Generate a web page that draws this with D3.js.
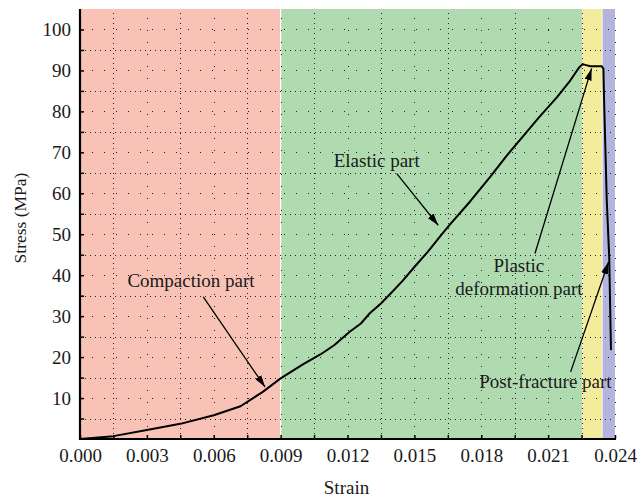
<!DOCTYPE html>
<html>
<head>
<meta charset="utf-8">
<script src="https://cdn.jsdelivr.net/npm/d3@7/dist/d3.min.js"></script>
<style>
  html, body { margin: 0; padding: 0; background: #fff; }
  svg { display: block; font-family: "Liberation Serif", "DejaVu Serif", serif; }
</style>
</head>
<body>
<svg id="chart" width="641" height="498"></svg>
<script>
// ---- Data ----
const strain = [0, 0.0015, 0.003, 0.0045, 0.006, 0.0072, 0.0082, 0.009, 0.010, 0.0108, 0.0114, 0.0121, 0.0126, 0.0130, 0.0135, 0.0140, 0.0145, 0.0150, 0.0156, 0.0162, 0.0166, 0.0175, 0.0184, 0.0191, 0.0199, 0.0206, 0.0214, 0.0220, 0.0224, 0.02255, 0.0227, 0.0229, 0.0234, 0.02348, 0.0235, 0.02363, 0.02374, 0.02382];
const stress = [0, 0.7, 2.2, 3.7, 5.8, 8.0, 11.5, 14.8, 18.2, 20.7, 22.9, 26.2, 28.2, 30.7, 33.1, 35.9, 38.8, 42.0, 45.7, 49.8, 52.4, 58.0, 64.0, 68.9, 74.1, 78.6, 83.5, 87.6, 90.8, 91.5, 91.3, 91.0, 91.05, 90.4, 85.1, 58.3, 44.5, 21.7];

const regionNames = ["Compaction", "Elastic", "Plastic", "Post-fracture"];
const regionStart = [0, 0.009, 0.02253, 0.02343];
const regionEnd   = [0.009, 0.02253, 0.02343, 0.024];
const regionColor = ["#f8c3b6", "#b0dbb0", "#f2ec9c", "#b3b5de"];

const xTicks = [0, 0.003, 0.006, 0.009, 0.012, 0.015, 0.018, 0.021, 0.024];
const xTickLabels = ["0.000", "0.003", "0.006", "0.009", "0.012", "0.015", "0.018", "0.021", "0.024"];
const yTicks = [10, 20, 30, 40, 50, 60, 70, 80, 90, 100];
const yTickLabels = ["10", "20", "30", "40", "50", "60", "70", "80", "90", "100"];

// annotation: label lines, text anchor (strain, stress), arrow tail, arrow tip
const annLabels = [["Compaction part"], ["Elastic part"], ["Plastic", "deformation part"], ["Post-fracture part"]];
const annTextX = [0.00498, 0.01331, 0.01969, 0.02088];
const annTextY = [37.1, 66.4, 40.8, 12.4];
const annTailX = [0.00553, 0.01421, 0.02041, 0.02201];
const annTailY = [34.7, 64.8, 45.3, 16.4];
const annTipX  = [0.0083, 0.01607, 0.02295, 0.02371];
const annTipY  = [12.7, 52.2, 90.5, 43.2];

// ---- Layout ----
const svg = d3.select("#chart");
const L = 80, R = 615, T = 9, B = 439;
const x = d3.scaleLinear().domain([0, 0.024]).range([L, R]);
const y = d3.scaleLinear().domain([0, 105]).range([B, T]);
const FS = 19;

// regions
svg.append("g").selectAll("rect").data(regionNames).join("rect")
  .attr("x", (d, i) => x(regionStart[i]))
  .attr("y", T)
  .attr("width", (d, i) => x(regionEnd[i]) - x(regionStart[i]))
  .attr("height", B - T)
  .attr("fill", (d, i) => regionColor[i]);

// white separators
svg.append("line").attr("x1", x(regionStart[1])).attr("x2", x(regionStart[1]))
  .attr("y1", T).attr("y2", B).attr("stroke", "#fff").attr("stroke-width", 1.2);
svg.append("line").attr("x1", x(regionStart[3])).attr("x2", x(regionStart[3]))
  .attr("y1", T).attr("y2", B).attr("stroke", "#fff").attr("stroke-width", 1).attr("stroke-opacity", 0.6);
svg.append("line").attr("x1", x(regionStart[2])).attr("x2", x(regionStart[2]))
  .attr("y1", T).attr("y2", B).attr("stroke", "#fff").attr("stroke-width", 1).attr("stroke-opacity", 0.3);

// grid
const gx = d3.range(1, 17).map(i => i * 0.0015);
const gy = d3.range(1, 21).map(i => i * 5);
const grid = svg.append("g").attr("stroke", "#222").attr("stroke-width", 1);
grid.selectAll("line.v").data(gx).join("line").attr("class", "v")
  .attr("x1", d => Math.round(x(d)) + 0.5).attr("x2", d => Math.round(x(d)) + 0.5)
  .attr("y1", B).attr("y2", T)
  .attr("stroke-dasharray", (d, i) => (i % 2 === 1) ? "1,11" : "1,4");
grid.selectAll("line.h").data(gy).join("line").attr("class", "h")
  .attr("x1", L).attr("x2", R)
  .attr("y1", d => Math.round(y(d)) + 0.5).attr("y2", d => Math.round(y(d)) + 0.5)
  .attr("stroke-dasharray", (d, i) => (i % 2 === 1) ? "1,11" : "1,4");

// curve
const line = d3.line().x(d => x(d[0])).y(d => y(d[1]));
svg.append("path").datum(strain.map((s, i) => [s, stress[i]]))
  .attr("d", line).attr("fill", "none").attr("stroke", "#000")
  .attr("stroke-width", 2).attr("stroke-linejoin", "round");

// arrows
svg.append("defs").append("marker")
  .attr("id", "ah").attr("viewBox", "0 0 10 6").attr("refX", 10).attr("refY", 3)
  .attr("markerUnits", "userSpaceOnUse").attr("markerWidth", 12).attr("markerHeight", 7.2)
  .attr("orient", "auto")
  .append("path").attr("d", "M0,0 L10,3 L0,6 Z").attr("fill", "#000");

svg.append("g").selectAll("line").data(annLabels).join("line")
  .attr("x1", (d, i) => x(annTailX[i])).attr("y1", (d, i) => y(annTailY[i]))
  .attr("x2", (d, i) => x(annTipX[i])).attr("y2", (d, i) => y(annTipY[i]))
  .attr("stroke", "#000").attr("stroke-width", 1.3).attr("marker-end", "url(#ah)");

// annotation labels
const ann = svg.append("g").attr("font-size", FS).attr("fill", "#1a1a1a").attr("text-anchor", "middle");
annLabels.forEach((lines, i) => {
  const t = ann.append("text").attr("x", x(annTextX[i])).attr("y", y(annTextY[i]));
  lines.forEach((l, j) => {
    t.append("tspan").attr("x", x(annTextX[i])).attr("dy", j === 0 ? 0 : 23.5).text(l);
  });
});

// axes
const xAxis = d3.axisBottom(x).tickValues(d3.range(0, 17).map(i => i * 0.0015))
  .tickSize(-4).tickPadding(10)
  .tickFormat(d => { const k = xTicks.findIndex(v => Math.abs(v - d) < 1e-9); return k >= 0 ? xTickLabels[k] : ""; });
const gxAxis = svg.append("g").attr("transform", `translate(0,${B})`).call(xAxis);
const yAxis = d3.axisLeft(y).tickValues(d3.range(1, 21).map(i => i * 5))
  .tickSize(-4).tickPadding(9)
  .tickFormat(d => { const k = yTicks.indexOf(d); return k >= 0 ? yTickLabels[k] : ""; });
const gyAxis = svg.append("g").attr("transform", `translate(${L},0)`).call(yAxis);

[gxAxis, gyAxis].forEach(g => {
  g.select(".domain").remove();
  g.selectAll(".tick line").attr("stroke", "#000").attr("stroke-width", 1.5);
  g.selectAll(".tick text").attr("font-family", "Liberation Serif, serif").attr("font-size", FS).attr("fill", "#1a1a1a");
});
gxAxis.selectAll(".tick text").attr("dy", "0.71em");

// axis lines
svg.append("line").attr("x1", L).attr("x2", L).attr("y1", T).attr("y2", B + 1)
  .attr("stroke", "#000").attr("stroke-width", 2.2);
svg.append("line").attr("x1", L - 1).attr("x2", R + 1).attr("y1", B).attr("y2", B)
  .attr("stroke", "#000").attr("stroke-width", 2.2);

// axis titles
svg.append("text").attr("x", (L + R) / 2 - 1).attr("y", 494).attr("text-anchor", "middle")
  .attr("font-size", 19).attr("fill", "#1a1a1a").text("Strain");
svg.append("text").attr("transform", `translate(26,218) rotate(-90)`).attr("text-anchor", "middle")
  .attr("font-size", 17.5).attr("fill", "#1a1a1a").text("Stress (MPa)");
</script>
</body>
</html>
